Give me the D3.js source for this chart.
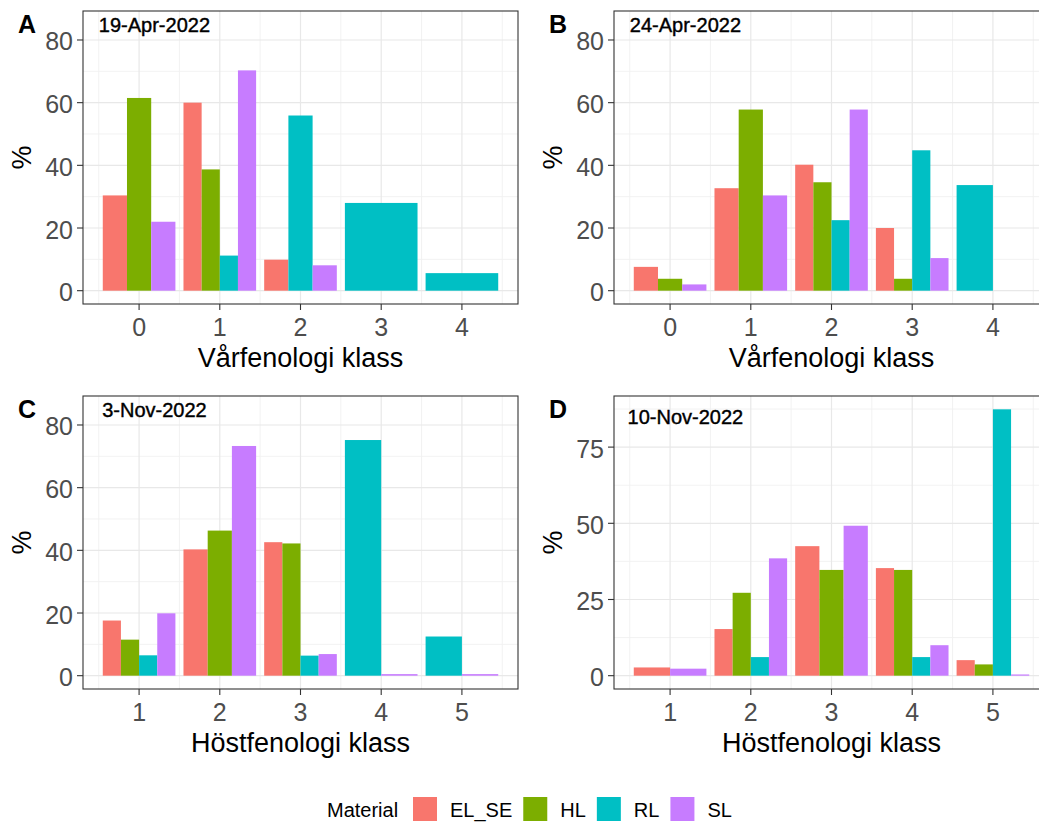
<!DOCTYPE html>
<html lang="sv">
<head>
  <meta charset="UTF-8">
  <title>Fenologi klass per material</title>
  <style>
    body { margin: 0; background: #fff; }
    svg { display: block; font-family: "Liberation Sans", Arial, sans-serif; }
    .grid-major { stroke: #e8e8e8; stroke-width: 1.2; }
    .grid-minor { stroke: #f0f0f0; stroke-width: 0.9; }
    .tick-label { fill: #4d4d4d; font-size: 25px; }
    .axis-title { fill: #000; font-size: 27px; }
  </style>
</head>
<body>
  <div id="chart"></div>
  <script src="https://d3js.org/d3.v7.min.js"></script>
  <script>
    // materialen och färger (ggplot default hue)
    const materials = ["EL_SE", "HL", "RL", "SL"];
    const colors = ["#F8766D", "#7CAE00", "#00BFC4", "#C77CFF"];

    const springClasses = [0, 1, 2, 3, 4];
    const autumnClasses = [1, 2, 3, 4, 5];

    // null = ingen rad, 0 = rad finns men syns inte
    const april19 = {
      EL_SE: [30.4, 60.0, 9.9, null, null],
      HL:    [61.5, 38.7, null, null, null],
      RL:    [null, 11.2, 55.9, 28.0, 5.6],
      SL:    [22.0, 70.3, 8.1, null, null]
    };
    const april24 = {
      EL_SE: [7.6, 32.7, 40.2, 20.0, null],
      HL:    [3.8, 57.8, 34.6, 3.8, null],
      RL:    [null, null, 22.5, 44.8, 33.7],
      SL:    [2.0, 30.4, 57.8, 10.4, 0]
    };
    const nov3 = {
      EL_SE: [17.6, 40.3, 42.6, null, null],
      HL:    [11.5, 46.3, 42.2, null, null],
      RL:    [6.5, null, 6.4, 75.2, 12.5],
      SL:    [19.9, 73.3, 6.9, 0.5, 0.5]
    };
    const nov10 = {
      EL_SE: [2.7, 15.3, 42.5, 35.3, 5.1],
      HL:    [null, 27.2, 34.7, 34.7, 3.7],
      RL:    [null, 6.1, null, 6.1, 87.4],
      SL:    [2.3, 38.5, 49.2, 10.0, 0.4]
    };

    const panels = [
      { tag: "A", date: "19-Apr-2022", classes: springClasses, values: april19, yMax: 85, yTicks: [0, 20, 40, 60, 80], xTitle: "Vårfenologi klass", left: 83, top: 11 },
      { tag: "B", date: "24-Apr-2022", classes: springClasses, values: april24, yMax: 85, yTicks: [0, 20, 40, 60, 80], xTitle: "Vårfenologi klass", left: 614, top: 11 },
      { tag: "C", date: "3-Nov-2022", classes: autumnClasses, values: nov3, yMax: 85, yTicks: [0, 20, 40, 60, 80], xTitle: "Höstfenologi klass", left: 83, top: 396 },
      { tag: "D", date: "10-Nov-2022", classes: autumnClasses, values: nov10, yMax: 87.4, yTicks: [0, 25, 50, 75], xTitle: "Höstfenologi klass", left: 614, top: 396 }
    ];

    const width = 1039, height = 825;
    const pw = 435, ph = 293;
    const dodge = 0.9;

    const svg = d3.select("#chart").append("svg")
      .attr("width", width)
      .attr("height", height);

    panels.forEach(p => {
      const first = p.classes[0], last = p.classes[p.classes.length - 1];
      const xPad = (last - first + dodge) * 0.05;
      const x = d3.scaleLinear()
        .domain([first - dodge / 2 - xPad, last + dodge / 2 + xPad])
        .range([0, pw]);
      const yPad = p.yMax * 0.05;
      const y = d3.scaleLinear()
        .domain([-yPad, p.yMax + yPad])
        .range([ph, 0]);

      const g = svg.append("g").attr("transform", `translate(${p.left},${p.top})`);

      // rutnät
      const step = p.yTicks[1] - p.yTicks[0];
      const yMinor = d3.range(p.yTicks[0] - step / 2, p.yMax + yPad, step).filter(v => v > -yPad);
      const xMinor = d3.range(first - 0.5, last + 1, 1);
      g.selectAll(".ym").data(yMinor).enter().append("line")
        .attr("class", "grid-minor")
        .attr("x1", 0).attr("x2", pw)
        .attr("y1", d => y(d)).attr("y2", d => y(d));
      g.selectAll(".xm").data(xMinor).enter().append("line")
        .attr("class", "grid-minor")
        .attr("y1", 0).attr("y2", ph)
        .attr("x1", d => x(d)).attr("x2", d => x(d));
      g.selectAll(".yM").data(p.yTicks).enter().append("line")
        .attr("class", "grid-major")
        .attr("x1", 0).attr("x2", pw)
        .attr("y1", d => y(d)).attr("y2", d => y(d));
      g.selectAll(".xM").data(p.classes).enter().append("line")
        .attr("class", "grid-major")
        .attr("y1", 0).attr("y2", ph)
        .attr("x1", d => x(d)).attr("x2", d => x(d));

      // staplar, position_dodge
      const bars = [];
      p.classes.forEach((c, i) => {
        const present = materials.filter(m => p.values[m][i] !== null);
        const bw = dodge / present.length;
        present.forEach((m, j) => {
          bars.push({
            x0: c - dodge / 2 + j * bw,
            x1: c - dodge / 2 + (j + 1) * bw,
            v: p.values[m][i],
            color: colors[materials.indexOf(m)]
          });
        });
      });
      g.selectAll(".bar").data(bars.filter(b => b.v > 0)).enter().append("rect")
        .attr("x", d => x(d.x0))
        .attr("width", d => x(d.x1) - x(d.x0))
        .attr("y", d => y(d.v))
        .attr("height", d => y(0) - y(d.v))
        .attr("fill", d => d.color);

      // ram
      g.append("rect")
        .attr("width", pw).attr("height", ph)
        .attr("fill", "none")
        .attr("stroke", "#333")
        .attr("stroke-width", 1.1);

      // y-axel
      g.selectAll(".yt").data(p.yTicks).enter().append("line")
        .attr("x1", -6).attr("x2", 0)
        .attr("y1", d => y(d)).attr("y2", d => y(d))
        .attr("stroke", "#333").attr("stroke-width", 1.1);
      g.selectAll(".yl").data(p.yTicks).enter().append("text")
        .attr("class", "tick-label")
        .attr("x", -10)
        .attr("y", d => y(d))
        .attr("dy", "0.42em")
        .attr("text-anchor", "end")
        .text(d => d);

      // x-axel
      g.selectAll(".xt").data(p.classes).enter().append("line")
        .attr("y1", ph).attr("y2", ph + 6)
        .attr("x1", d => x(d)).attr("x2", d => x(d))
        .attr("stroke", "#333").attr("stroke-width", 1.1);
      g.selectAll(".xl").data(p.classes).enter().append("text")
        .attr("class", "tick-label")
        .attr("x", d => x(d))
        .attr("y", ph + 32)
        .attr("text-anchor", "middle")
        .text(d => d);

      g.append("text")
        .attr("class", "axis-title")
        .attr("x", pw / 2)
        .attr("y", ph + 63)
        .attr("text-anchor", "middle")
        .text(p.xTitle);

      g.append("text")
        .attr("class", "axis-title")
        .attr("transform", `translate(${-61},${ph / 2}) rotate(-90)`)
        .attr("dy", "0.35em")
        .attr("text-anchor", "middle")
        .text("%");

      // datum
      g.append("text")
        .attr("x", x(first + 0.19))
        .attr("y", y(85))
        .attr("dy", "0.36em")
        .attr("text-anchor", "middle")
        .attr("font-size", "20px")
        .attr("fill", "#000")
        .attr("stroke", "#000")
        .attr("stroke-width", 0.4)
        .text(p.date);

      // bokstav
      svg.append("text")
        .attr("x", p.left - 65)
        .attr("y", p.top + 22)
        .attr("font-size", "25px")
        .attr("font-weight", "bold")
        .attr("fill", "#000")
        .text(p.tag);
    });

    // legend
    const legend = svg.append("g").attr("transform", "translate(327,817)");
    legend.append("text")
      .attr("font-size", "20px")
      .attr("fill", "#000")
      .text("Material");
    let lx = 86;
    materials.forEach((m, i) => {
      legend.append("rect")
        .attr("x", lx).attr("y", -20)
        .attr("width", 24).attr("height", 24)
        .attr("fill", colors[i]);
      const t = legend.append("text")
        .attr("x", lx + 37)
        .attr("font-size", "20px")
        .attr("fill", "#000")
        .text(m);
      lx += 37 + t.node().getComputedTextLength() + 11;
    });
  </script>
</body>
</html>
